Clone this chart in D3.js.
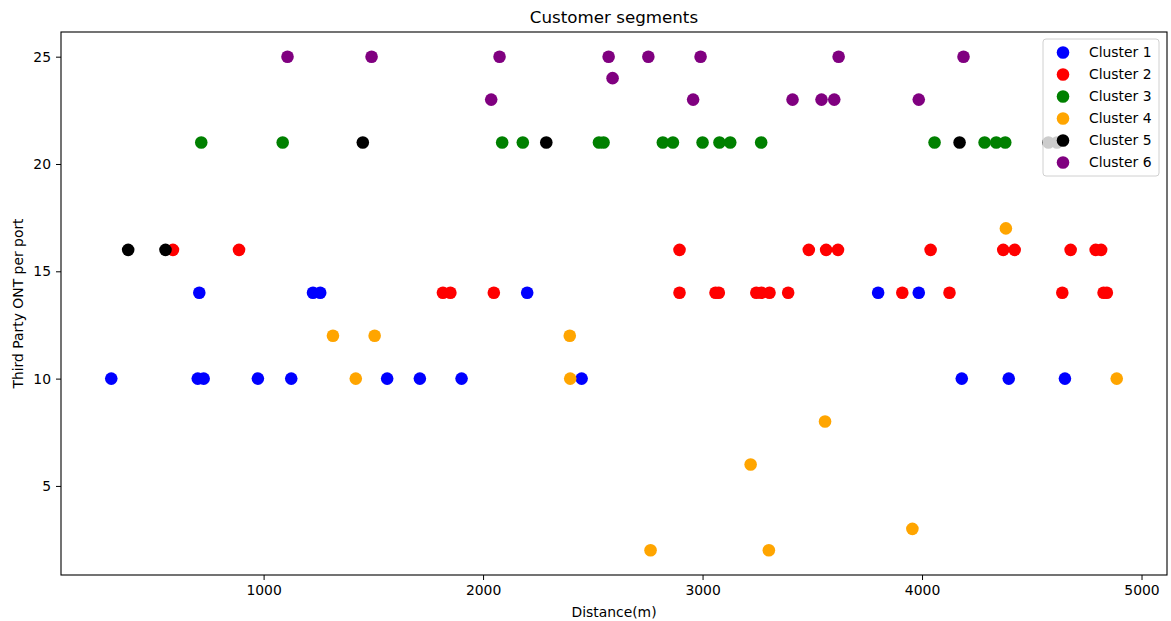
<!DOCTYPE html>
<html>
<head>
<meta charset="utf-8">
<script src="https://cdn.jsdelivr.net/npm/d3@7"></script>
<style>
  body { margin: 0; background: #fff; }
  svg { font-family: "DejaVu Sans", sans-serif; }
</style>
</head>
<body>
<div id="chart"></div>
<script>
// cluster points: distance (m) and third-party ONT per port
const c1x = [707, 1225, 1258, 2201, 3800, 3985, 306, 700, 727, 974, 1126, 1563, 1712, 1902, 2449, 4181, 4395, 4651];
const c1y = [14, 14, 14, 14, 14, 14, 10, 10, 10, 10, 10, 10, 10, 10, 10, 10, 10, 10];
const c2x = [587, 888, 2895, 3484, 3563, 3617, 4039, 4370, 4422, 4677, 4791, 4816,
             1817, 1851, 2049, 2895, 3059, 3074, 3245, 3268, 3305, 3390, 3910, 4125, 4639, 4827, 4842];
const c2y = [16, 16, 16, 16, 16, 16, 16, 16, 16, 16, 16, 16,
             14, 14, 14, 14, 14, 14, 14, 14, 14, 14, 14, 14, 14, 14, 14];
const c3x = [716, 1087, 2087, 2181, 2528, 2549, 2819, 2865, 3000, 3077, 3126, 3267, 4057, 4285, 4338, 4379];
const c3y = [21, 21, 21, 21, 21, 21, 21, 21, 21, 21, 21, 21, 21, 21, 21, 21];
const c4x = [1316, 1506, 2395, 1420, 2397, 4887, 4382, 3558, 3219, 2763, 3302, 3956];
const c4y = [12, 12, 12, 10, 10, 10, 17, 8, 6, 2, 2, 3];
const c5x = [383, 553, 1452, 2288, 4171, 4576, 4615];
const c5y = [16, 16, 21, 21, 21, 21, 21];
const c6x = [1109, 1492, 2075, 2572, 2753, 2991, 3620, 4189, 2590, 2037, 2957, 3410, 3542, 3600, 3985];
const c6y = [25, 25, 25, 25, 25, 25, 25, 25, 24, 23, 23, 23, 23, 23, 23];

const names = ["Cluster 1", "Cluster 2", "Cluster 3", "Cluster 4", "Cluster 5", "Cluster 6"];
const colors = ["blue", "red", "green", "orange", "black", "purple"];
const xTicks = [1000, 2000, 3000, 4000, 5000];
const yTicks = [5, 10, 15, 20, 25];

const clusters = [[c1x, c1y], [c2x, c2y], [c3x, c3y], [c4x, c4y], [c5x, c5y], [c6x, c6y]]
  .map(([xs, ys], i) => xs.map((x, j) => ({ x: x, y: ys[j], c: i })));
const all = clusters.flat();

const width = 1171;
const height = 621;
const margin = { top: 32, right: 4, bottom: 46, left: 61 };

// matplotlib style 5% padding on the data range
function padded(ext) {
  const p = (ext[1] - ext[0]) * 0.05;
  return [ext[0] - p, ext[1] + p];
}

const xScale = d3.scaleLinear()
  .domain(padded(d3.extent(all, d => d.x)))
  .range([margin.left, width - margin.right]);
const yScale = d3.scaleLinear()
  .domain(padded(d3.extent(all, d => d.y)))
  .range([height - margin.bottom, margin.top]);

const svg = d3.select("#chart").append("svg")
  .attr("width", width)
  .attr("height", height);

// points, one layer per cluster in order
const g = svg.append("g");
clusters.forEach((pts, i) => {
  g.append("g").selectAll("circle")
    .data(pts)
    .join("circle")
    .attr("cx", d => xScale(d.x))
    .attr("cy", d => yScale(d.y))
    .attr("r", 6.3)
    .attr("fill", colors[i]);
});

const xAxis = svg.append("g")
  .attr("transform", `translate(0, ${height - margin.bottom})`)
  .call(d3.axisBottom(xScale).tickValues(xTicks).tickSize(5).tickPadding(5).tickFormat(d3.format("d")));
const yAxis = svg.append("g")
  .attr("transform", `translate(${margin.left}, 0)`)
  .call(d3.axisLeft(yScale).tickValues(yTicks).tickSize(5).tickPadding(5));

[xAxis, yAxis].forEach(a => {
  a.selectAll("path").remove();
  a.selectAll("line").style("stroke", "#000").style("stroke-width", 1);
  a.selectAll("text")
    .style("font-family", "DejaVu Sans")
    .style("font-size", "13.9px")
    .style("fill", "#000");
});

// frame
svg.append("rect")
  .attr("x", margin.left)
  .attr("y", margin.top)
  .attr("width", width - margin.right - margin.left)
  .attr("height", height - margin.bottom - margin.top)
  .style("fill", "none")
  .style("stroke", "#000")
  .style("stroke-width", 1.1);

const midX = (margin.left + width - margin.right) / 2;

svg.append("text")
  .attr("x", midX)
  .attr("y", 23)
  .attr("text-anchor", "middle")
  .style("font-size", "16.7px")
  .text("Customer segments");

svg.append("text")
  .attr("x", midX)
  .attr("y", 617)
  .attr("text-anchor", "middle")
  .style("font-size", "13.9px")
  .text("Distance(m)");

svg.append("text")
  .attr("transform", `translate(23, ${(margin.top + height - margin.bottom) / 2}) rotate(-90)`)
  .attr("text-anchor", "middle")
  .style("font-size", "13.9px")
  .text("Third Party ONT per port");

// legend, semi transparent like matplotlib
const legend = svg.append("g").attr("transform", "translate(1043, 39)");
legend.append("rect")
  .attr("width", 116)
  .attr("height", 137)
  .attr("rx", 3)
  .style("fill", "#fff")
  .style("fill-opacity", 0.8)
  .style("stroke", "#d0d0d0")
  .style("stroke-width", 1);

const items = legend.selectAll(".item")
  .data(names)
  .join("g")
  .attr("class", "item")
  .attr("transform", (d, i) => `translate(0, ${13.5 + i * 22})`);
items.append("circle")
  .attr("cx", 20)
  .attr("r", 6.3)
  .attr("fill", (d, i) => colors[i]);
items.append("text")
  .attr("x", 46)
  .attr("dy", "0.35em")
  .style("font-size", "13.9px")
  .style("fill", "#000")
  .text(d => d);
</script>
</body>
</html>
